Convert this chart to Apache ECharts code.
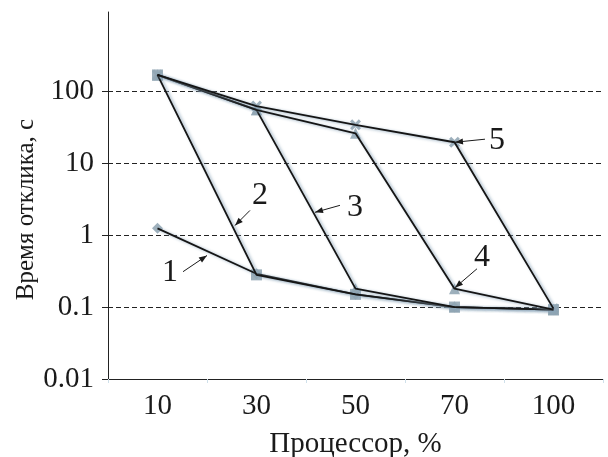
<!DOCTYPE html>
<html><head><meta charset="utf-8">
<script src="https://cdn.jsdelivr.net/npm/echarts@6/dist/echarts.min.js"></script>
<style>html,body{margin:0;padding:0;background:#fff}#c{width:608px;height:457px}</style>
</head><body><div id="c"></div>
<script>
const categories = ['10', '30', '50', '70', '100'];
const s1 = [1.24, 0.29, 0.15, 0.10, 0.092];
const s2 = [168, 0.28, 0.15, 0.10, 0.092];
const s3 = [168, 55, 0.18, 0.10, 0.092];
const s4 = [168, 55, 26, 0.18, 0.092];
const s5 = [168, 62, 34, 19.5, 0.095];
const seriesNames = ['1', '2', '3', '4', '5'];
const yTickValues = [0.01, 0.1, 1, 10, 100];
// annotations: [label, textX, textY, arrowFromX, arrowFromY, arrowToX, arrowToY] (x as category position, y as data value)
const ann1 = ['1', 0.126, 0.30, 0.258, 0.31, 0.50, 0.52];
const ann2 = ['2', 1.035, 3.56, 0.934, 2.2, 0.783, 1.36];
const ann3 = ['3', 1.995, 2.43, 1.843, 2.59, 1.591, 2.07];
const ann4 = ['4', 3.278, 0.49, 3.227, 0.34, 3.005, 0.186];
const ann5 = ['5', 3.429, 20.8, 3.308, 21.5, 3.005, 19.5];

const allSeries = [s1, s2, s3, s4, s5];
const symbols = ['diamond', 'rect', 'triangle', 'triangle',
  'path://M2,0 L5,3 L8,0 L10,2 L7,5 L10,8 L8,10 L5,7 L2,10 L0,8 L3,5 L0,2 Z'];
const font = 'Liberation Serif';
const chart = echarts.init(document.getElementById('c'));
const series = [];
allSeries.forEach((d, i) => {
  series.push({
    name: seriesNames[i] + 'm', type: 'scatter', data: d, z: 2,
    symbol: symbols[i], symbolSize: 11,
    itemStyle: { color: '#93a7b5', opacity: 0.9 }, silent: true
  });
});
allSeries.forEach((d, i) => {
  series.push({
    name: seriesNames[i], type: 'line', data: d, z: 3, symbol: 'none',
    lineStyle: { color: '#151515', width: 1.8, shadowColor: 'rgba(140,165,185,0.9)',
      shadowBlur: 3, shadowOffsetX: 2, shadowOffsetY: 1 },
    silent: true
  });
});
chart.setOption({
  animation: false,
  grid: { left: 108, right: 5, top: 12, bottom: 78, containLabel: false, outerBoundsMode: 'none' },
  xAxis: {
    type: 'category', data: categories, boundaryGap: true,
    axisLine: { lineStyle: { color: '#222', width: 1 } },
    axisTick: { show: true, length: 4, lineStyle: { color: '#cfe0ea' } },
    axisLabel: { color: '#1a1a1a', fontFamily: font, fontSize: 29, margin: 13 },
    name: 'Процессор, %', nameLocation: 'middle', nameGap: 51, nameMoveOverlap: false,
    nameTextStyle: { color: '#1a1a1a', fontFamily: font, fontSize: 29 }
  },
  yAxis: {
    type: 'log', logBase: 10, min: 0.01, max: Math.pow(10, 3.1),
    axisLine: { show: true, lineStyle: { color: '#222', width: 1 } },
    axisTick: { show: true, length: 6, customValues: yTickValues, lineStyle: { color: '#222' } },
    axisLabel: { color: '#1a1a1a', fontFamily: font, fontSize: 29, margin: 14, customValues: yTickValues,
      formatter: v => String(Number(v.toPrecision(6))) },
    splitLine: { show: true, lineStyle: { type: [5, 3], color: ['transparent', '#222', '#222', '#222', '#222', 'transparent', 'transparent', 'transparent'], width: 1 } },
    name: 'Время отклика, с', nameLocation: 'middle', nameGap: 69, nameMoveOverlap: false,
    nameTextStyle: { color: '#1a1a1a', fontFamily: font, fontSize: 25, padding: [0, 28, 0, 0] }
  },
  series: series
});
function px(xPos, yVal) {
  const a = chart.convertToPixel({ gridIndex: 0 }, [0, yVal]);
  const b = chart.convertToPixel({ gridIndex: 0 }, [1, yVal]);
  return [a[0] + (b[0] - a[0]) * xPos, a[1]];
}
function addAnn() {
  const g = [];
  [ann1, ann2, ann3, ann4, ann5].forEach(a => {
    const t = px(a[1], a[2]);
    const p0 = px(a[3], a[4]);
    const p1 = px(a[5], a[6]);
    g.push({ type: 'text', x: t[0], y: t[1], z: 10,
      style: { text: a[0], fontFamily: font, fontSize: 32, fill: '#1a1a1a', align: 'center', verticalAlign: 'middle' } });
    g.push({ type: 'line', z: 10, shape: { x1: p0[0], y1: p0[1], x2: p1[0], y2: p1[1] },
      style: { stroke: '#1a1a1a', lineWidth: 1 } });
    const ang = Math.atan2(p1[1] - p0[1], p1[0] - p0[0]);
    const L = 8, W = 3;
    const bx = p1[0] - L * Math.cos(ang), by = p1[1] - L * Math.sin(ang);
    g.push({ type: 'polygon', z: 10, shape: { points: [[p1[0], p1[1]],
      [bx + W * Math.sin(ang), by - W * Math.cos(ang)], [bx - W * Math.sin(ang), by + W * Math.cos(ang)]] },
      style: { fill: '#1a1a1a' } });
  });
  chart.setOption({ graphic: g });
}
addAnn();
</script></body></html>
